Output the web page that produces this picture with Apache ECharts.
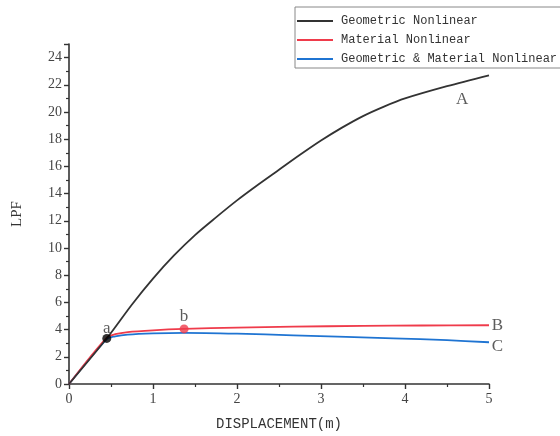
<!DOCTYPE html>
<html>
<head>
<meta charset="utf-8">
<script src="https://cdn.jsdelivr.net/npm/echarts@6/dist/echarts.min.js"></script>
<style>
  html, body { margin: 0; padding: 0; background: #fff; }
  #chart { width: 560px; height: 436px; }
</style>
</head>
<body>
<div id="chart"></div>
<script>
  // curves: [displacement, LPF]
  var geoNonlinear = [[0, 0], [0.45, 3.36], [0.75, 5.85], [1.0, 7.75], [1.25, 9.45], [1.5, 10.95], [1.75, 12.25],
    [2.0, 13.5], [2.25, 14.65], [2.5, 15.75], [2.75, 16.85], [3.0, 17.9], [3.25, 18.85], [3.5, 19.7],
    [3.75, 20.4], [4.0, 21.0], [4.5, 21.9], [5.0, 22.7]];
  var matNonlinear = [[0, 0], [0.45, 3.42], [0.55, 3.66], [0.7, 3.82], [1.0, 3.95], [1.37, 4.05], [2.0, 4.15],
    [2.67, 4.22], [3.5, 4.27], [4.2, 4.3], [5.0, 4.32]];
  var geoMatNonlinear = [[0, 0], [0.45, 3.3], [0.55, 3.5], [0.7, 3.63], [1.0, 3.72], [1.37, 3.76], [2.0, 3.7],
    [2.67, 3.58], [3.3, 3.47], [3.86, 3.36], [4.5, 3.22], [5.0, 3.07]];

  var seriesNames = ['Geometric Nonlinear', 'Material Nonlinear', 'Geometric & Material Nonlinear'];
  var seriesColors = ['#333333', '#ef3b4b', '#1f74d2'];

  // marked points a, b
  var pointA = [[0.45, 3.35, 'a']];
  var pointB = [[1.37, 4.05, 'b']];
  // curve labels
  var curveLabels = [[4.68, 20.9, 'A'], [5.1, 4.32, 'B'], [5.1, 2.78, 'C']];

  var chart = echarts.init(document.getElementById('chart'));

  var lineData = [geoNonlinear, matNonlinear, geoMatNonlinear];
  var series = lineData.map(function (d, i) {
    return {
      name: seriesNames[i],
      type: 'line',
      data: d,
      showSymbol: false,
      smooth: 0.3,
      lineStyle: { color: seriesColors[i], width: 1.8 },
      itemStyle: { color: seriesColors[i] },
      z: 3 - i
    };
  });

  series.push({
    type: 'scatter',
    data: pointA,
    symbolSize: 9,
    itemStyle: { color: '#000' },
    label: {
      show: true, position: 'top', distance: -3,
      formatter: function (p) { return p.data[2]; },
      fontFamily: 'Liberation Serif', fontSize: 17, color: '#333'
    },
    z: 10
  });
  series.push({
    type: 'scatter',
    data: pointB,
    symbolSize: 9,
    itemStyle: { color: '#ef3b4b' },
    label: {
      show: true, position: 'top', distance: -1,
      formatter: function (p) { return p.data[2]; },
      fontFamily: 'Liberation Serif', fontSize: 17, color: '#333'
    },
    z: 10
  });
  series.push({
    type: 'scatter',
    data: curveLabels,
    clip: false,
    symbolSize: 1,
    itemStyle: { color: 'rgba(0,0,0,0)' },
    label: {
      show: true, position: 'inside',
      formatter: function (p) { return p.data[2]; },
      fontFamily: 'Liberation Serif', fontSize: 17, color: '#333'
    },
    z: 10
  });

  chart.setOption({
    backgroundColor: '#fff',
    animation: false,
    grid: { left: 69, right: 71, top: 44, bottom: 51 },
    legend: {
      data: seriesNames,
      orient: 'vertical',
      left: 295,
      top: 7,
      padding: [7, 10, 2, 2],
      itemWidth: 36,
      itemHeight: 2,
      itemGap: 5,
      icon: 'rect',
      borderColor: '#888',
      borderWidth: 1,
      textStyle: { fontFamily: 'Liberation Mono', fontSize: 12, color: '#333', lineHeight: 14, padding: [0, 0, 0, 3] }
    },
    xAxis: {
      type: 'value',
      min: 0, max: 5, interval: 1,
      name: 'DISPLACEMENT(m)',
      nameLocation: 'middle',
      nameGap: 33,
      nameTextStyle: { fontFamily: 'Liberation Mono', fontSize: 14, color: '#333' },
      axisLine: { lineStyle: { color: '#333', width: 1.6 } },
      axisTick: { inside: false, length: 5, lineStyle: { color: '#333', width: 1.4 } },
      minorTick: { show: true, splitNumber: 2, length: 3, lineStyle: { color: '#333', width: 1.2 } },
      axisLabel: { fontFamily: 'Liberation Serif', fontSize: 14, color: '#444', margin: 8 },
      splitLine: { show: false }
    },
    yAxis: {
      type: 'value',
      min: 0, max: 25, interval: 2,
      name: 'LPF',
      nameLocation: 'middle',
      nameGap: 44,
      nameTextStyle: { fontFamily: 'Liberation Serif', fontSize: 15, color: '#333' },
      axisLine: { show: true, lineStyle: { color: '#333', width: 1.6 } },
      axisTick: { show: true, inside: false, length: 5, lineStyle: { color: '#333', width: 1.4 } },
      minorTick: { show: true, splitNumber: 2, length: 3, lineStyle: { color: '#333', width: 1.2 } },
      axisLabel: { fontFamily: 'Liberation Serif', fontSize: 14, color: '#444', margin: 7, showMaxLabel: false },
      splitLine: { show: false }
    },
    series: series
  });
</script>
</body>
</html>
